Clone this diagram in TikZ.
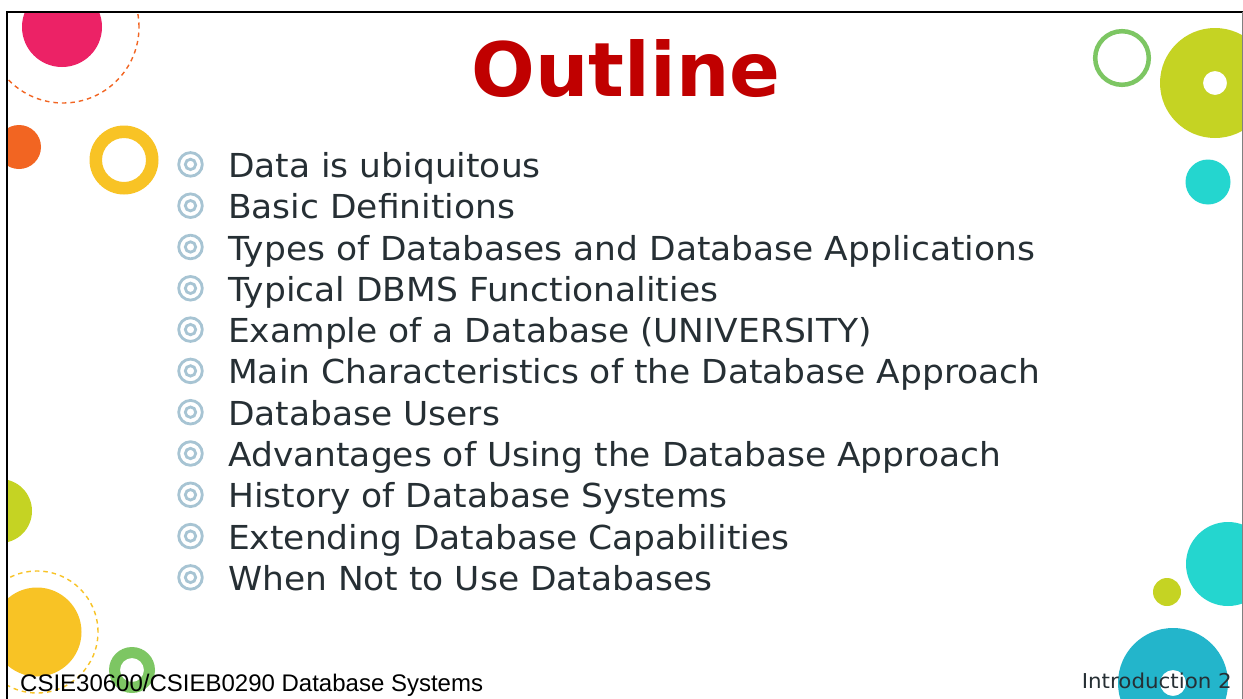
\documentclass[tikz,border=0pt]{standalone}
\usepackage{fontspec}
\setmainfont{DejaVu Sans}
\newfontfamily\verd{DejaVu Sans}
\newfontfamily\verdw[FakeStretch=1.044]{DejaVu Sans}
\newfontfamily\arialf{Liberation Sans}
\definecolor{cpink}{HTML}{EC2266}
\definecolor{corange}{HTML}{F26522}
\definecolor{cyellow}{HTML}{F8C325}
\definecolor{cbullet}{HTML}{A7C4D3}
\definecolor{cgreen}{HTML}{7DC663}
\definecolor{clime}{HTML}{C5D323}
\definecolor{ccyan}{HTML}{24D6CF}
\definecolor{cblue}{HTML}{23B5CB}
\definecolor{ctitle}{HTML}{C00000}
\definecolor{ctext}{HTML}{262F34}
\begin{document}
\begin{tikzpicture}[x=1pt,y=-1pt,
  itemtext/.style={anchor=base west,inner sep=0pt,text=ctext,font=\verdw\fontsize{33}{40}\selectfont},
  bulletring/.style={draw=cbullet,line width=2.8pt},
  dashring/.style={dashed,line width=1.4pt,dash pattern=on 4.5pt off 4pt}]
\useasboundingbox (0,0) rectangle (1243,699);
\fill[white] (0,0) rectangle (1243,699);
\begin{scope}
\clip (7,11) rectangle (1242,699);
% top-left
\fill[cpink] (62,27) circle[radius=40pt];
\draw[corange,dashring] (63,27) circle[radius=76pt];
\fill[corange] (19,147) circle[radius=22pt];
\fill[cyellow,even odd rule] (124,160) circle[radius=34.5pt] (124,160) circle[radius=22pt];
% top-right
\draw[cgreen,line width=4.5pt] (1122,58) circle[radius=26.8pt];
\fill[clime,even odd rule] (1215,83) circle[radius=55pt] (1215,83) circle[radius=12pt];
\fill[ccyan] (1208,182) circle[radius=22.5pt];
% bottom-left
\fill[clime] (0,511) circle[radius=32pt];
\fill[cyellow] (37,632) circle[radius=44.5pt];
\draw[cyellow,dashring] (37,632) circle[radius=61pt];
\fill[cgreen,even odd rule] (132,670) circle[radius=23pt] (132,670) circle[radius=12pt];
% bottom-right
\fill[ccyan] (1228,564) circle[radius=42pt];
\fill[clime] (1167,592) circle[radius=14pt];
\fill[cblue,even odd rule] (1173,683) circle[radius=55pt] (1173,683) circle[radius=13pt];
\end{scope}
% frame
\draw[black,line width=2pt] (7,699) -- (7,11.5) -- (1243,11.5);
\draw[gray,line width=1pt] (1242.3,11.5) -- (1242.3,699);
% title
\node[anchor=base,inner sep=0pt,text=ctitle,font=\verd\bfseries\fontsize{75}{80}\selectfont] (title) at (626,96) {Outline};
% items
\foreach \i/\t in {1/Data is ubiquitous,2/Basic Definitions,3/Types of Databases and Database Applications,4/Typical DBMS Functionalities,5/Example of a Database (UNIVERSITY),6/Main Characteristics of the Database Approach,7/Database Users,8/Advantages of Using the Database Approach,9/History of Database Systems,10/Extending Database Capabilities,11/When Not to Use Databases}{
  \pgfmathsetmacro{\yb}{177.4+(\i-1)*41.3}
  \node[itemtext] (item\i) at (228,\yb) {\t};
  \draw[bulletring] (190.5,\yb-13) circle[radius=11.8pt];
  \draw[bulletring] (190.5,\yb-13) circle[radius=5.2pt];
}
% footer
\node[anchor=base west,inner sep=0pt,text=black,font=\arialf\fontsize{24}{28}\selectfont] (footer) at (20,691) {CSIE30600/CSIEB0290 Database Systems};
\node[anchor=base east,inner sep=0pt,text=ctext,font=\verdw\fontsize{20.5}{24}\selectfont] (pagenum) at (1232,688) {Introduction 2};
\end{tikzpicture}
\end{document}
